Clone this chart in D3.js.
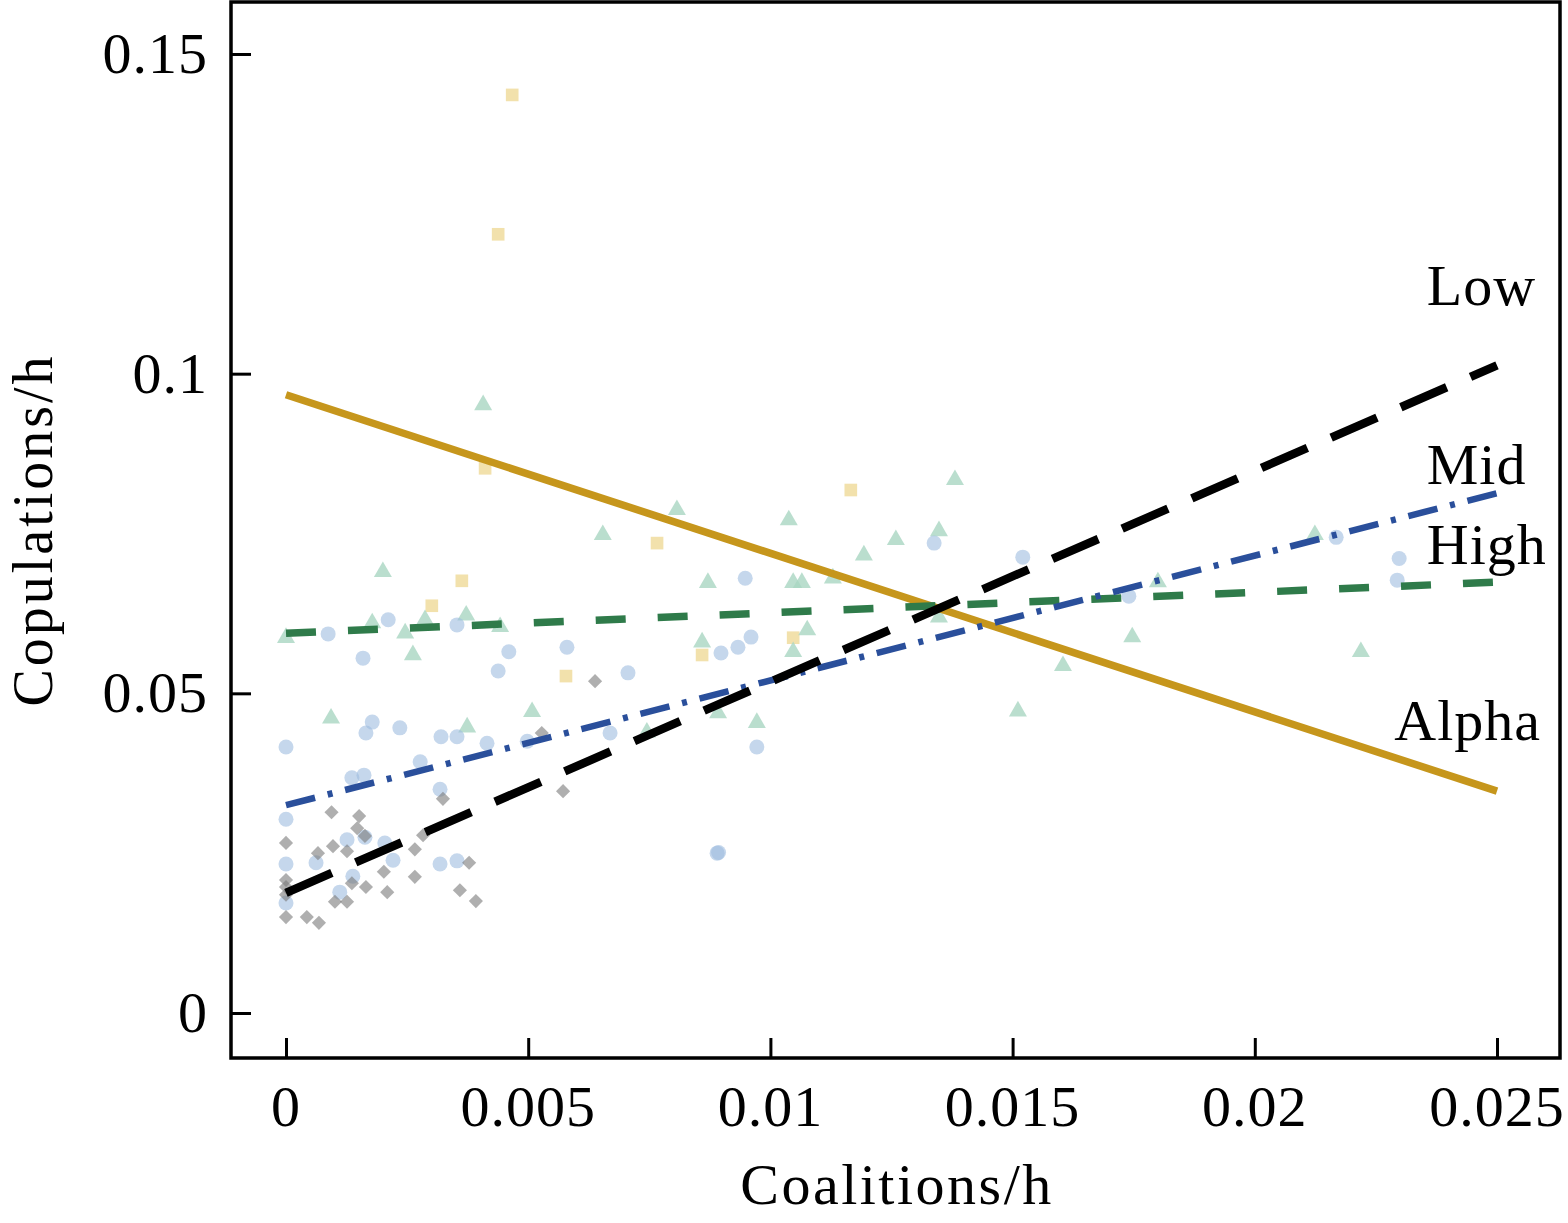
<!DOCTYPE html>
<html><head><meta charset="utf-8">
<script src="https://cdn.jsdelivr.net/npm/d3@7"></script>
<style>body{margin:0;background:#fff}svg{display:block}text{font-family:"Liberation Serif","Times New Roman",serif;fill:#000}</style>
</head><body>
<svg id="c" width="1568" height="1223"></svg>
<script>
// ---- data ----
const xTicks = [0, 0.005, 0.01, 0.015, 0.02, 0.025];
const xTickLabels = ["0", "0.005", "0.01", "0.015", "0.02", "0.025"];
const yTicks = [0, 0.05, 0.1, 0.15];
const yTickLabels = ["0", "0.05", "0.1", "0.15"];
const xLabel = "Coalitions/h";
const yLabel = "Copulations/h";

// fitted lines: value at x = 0 and x = 0.025
const fitX = [0, 0.025];
const lowFit = [0.0188, 0.1013];
const midFit = [0.0325, 0.0813];
const highFit = [0.0594, 0.0674];
const alphaFit = [0.0967, 0.0347];

// scatter points [x, y]
const lowPts = [[0.00094,0.0314],[0.00151,0.0308],[0,0.0266],[0.00097,0.0261],[0.00147,0.0289],[0.00066,0.0250],[0.00126,0.0253],[0.00163,0.0277],[0.00283,0.0278],[0.00266,0.0256],[0.00324,0.0335],[0.00378,0.0235],[0.00202,0.0221],[0.00266,0.0213],[0.00165,0.0197],[0.00209,0.0189],[0.00359,0.0192],[0.00392,0.0175],[0.00101,0.0174],[0.00126,0.0174],[0,0.0150],[0.00043,0.0150],[0.00068,0.0141],[0.00136,0.0203],[0,0.0197],[0,0.0185],[0,0.0208],[0.00528,0.0438],[0.00638,0.0519],[0.00572,0.0347]];
const midPts = [[0,0.0303],[0,0.0233],[0.00062,0.0235],[0.00126,0.0271],[0.00163,0.0275],[0.00204,0.0266],[0.00221,0.0239],[0.00318,0.0233],[0.00353,0.0238],[0.00318,0.0350],[0.00136,0.0368],[0.00161,0.0372],[0,0.0172],[0.00111,0.0189],[0.00138,0.0214],[0.00277,0.0393],[0,0.0416],[0.00087,0.0593],[0.00159,0.0555],[0.00211,0.0615],[0.00353,0.0607],[0.0046,0.0565],[0.00438,0.0535],[0.0058,0.0572],[0.00706,0.0532],[0.00898,0.0563],[0.00933,0.0572],[0.0096,0.0588],[0.00948,0.0680],[0.00669,0.0438],[0.00972,0.0416],[0.0089,0.0250],[0.00893,0.0251],[0.01338,0.0735],[0.01521,0.0713],[0.0174,0.0652],[0.02168,0.0744],[0.02298,0.0711],[0.02294,0.0677],[0.00178,0.0455],[0.00165,0.0438],[0.00235,0.0446],[0.0032,0.0432],[0.00353,0.0432],[0.00415,0.0422],[0.00498,0.0425]];
const highPts = [[0.00407,0.0951],[0.00654,0.0748],[0.00807,0.0787],[0.01038,0.0771],[0.01381,0.0834],[0.01348,0.0754],[0.01259,0.0740],[0.01193,0.0716],[0.01047,0.0673],[0.01065,0.0673],[0.01129,0.0680],[0.01348,0.0619],[0.01076,0.0599],[0.01047,0.0565],[0.018,0.0674],[0.01747,0.0588],[0.01604,0.0543],[0.01511,0.0472],[0.02124,0.0748],[0.02219,0.0565],[0.002,0.0690],[0,0.0587],[0.00093,0.0461],[0.00246,0.0594],[0.00262,0.0560],[0.00287,0.0615],[0.00372,0.0622],[0.00442,0.0604],[0.00508,0.0471],[0.00374,0.0447],[0.00745,0.0439],[0.00892,0.0469],[0.00972,0.0454],[0.00859,0.0580],[0.00871,0.0673],[0.00178,0.0610]];
const alphaPts = [[0.00467,0.1436],[0.00438,0.1218],[0.00411,0.0852],[0.00363,0.0676],[0.00301,0.0637],[0.00578,0.0527],[0.00766,0.0735],[0.00859,0.0560],[0.01047,0.0587],[0.01166,0.0818]];

const seriesNames = ["Low", "Mid", "High", "Alpha"];
const labelPos = [[0.02355,0.1108],[0.02355,0.0827],[0.02355,0.0702],[0.02288,0.0427]];

// ---- drawing ----
const svg = d3.select("#c");
const L = 231, R = 1560, T = 2, B = 1058;
const x = d3.scaleLinear().domain([0, 0.025]).range([286, 1497]);
const y = d3.scaleLinear().domain([0, 0.15]).range([1013, 54]);

// points
const gp = svg.append("g");
gp.append("g").selectAll("path").data(alphaPts).join("path")
  .attr("d", d3.symbol(d3.symbolSquare, 160)())
  .attr("transform", d => `translate(${x(d[0])},${y(d[1])})`)
  .attr("fill", "#f1dea3").attr("opacity", 0.9);
gp.append("g").selectAll("path").data(highPts).join("path")
  .attr("d", d3.symbol(d3.symbolTriangle, 140)())
  .attr("transform", d => `translate(${x(d[0])},${y(d[1])})`)
  .attr("fill", "#a9d6c2").attr("opacity", 0.8);
gp.append("g").selectAll("circle").data(midPts).join("circle")
  .attr("cx", d => x(d[0])).attr("cy", d => y(d[1])).attr("r", 7.5)
  .attr("fill", "#9fbde0").attr("opacity", 0.6);
gp.append("g").selectAll("path").data(lowPts).join("path")
  .attr("d", d3.symbol(d3.symbolSquare, 100)())
  .attr("transform", d => `translate(${x(d[0])},${y(d[1])}) rotate(45)`)
  .attr("fill", "#7a7a7a").attr("opacity", 0.6);

// lines
const line = d3.line().x(d => x(d[0])).y(d => y(d[1]));
function fit(vals) { return fitX.map((v, i) => [v, vals[i]]); }
const gl = svg.append("g").attr("fill", "none");
gl.append("path").attr("d", line(fit(alphaFit))).attr("stroke", "#c6961c").attr("stroke-width", 7.5);
gl.append("path").attr("d", line(fit(highFit))).attr("stroke", "#2f7b4a").attr("stroke-width", 7.5).attr("stroke-dasharray", "30 32");
gl.append("path").attr("d", line(fit(midFit))).attr("stroke", "#2a4f9b").attr("stroke-width", 6.5).attr("stroke-dasharray", "30 13 5 13");
gl.append("path").attr("d", line(fit(lowFit))).attr("stroke", "#000").attr("stroke-width", 8.5).attr("stroke-dasharray", "50 26");

// frame
svg.append("rect").attr("x", L).attr("y", T).attr("width", R - L).attr("height", B - T)
  .attr("fill", "none").attr("stroke", "#000").attr("stroke-width", 3.5);

// axes ticks (inward)
const xa = svg.append("g").attr("transform", `translate(0,${B})`)
  .call(d3.axisTop(x).tickValues(xTicks).tickSize(20).tickFormat(""));
xa.select(".domain").remove();
xa.selectAll("line").attr("stroke", "#000").attr("stroke-width", 3);
const ya = svg.append("g").attr("transform", `translate(${L},0)`)
  .call(d3.axisRight(y).tickValues(yTicks).tickSize(20).tickFormat(""));
ya.select(".domain").remove();
ya.selectAll("line").attr("stroke", "#000").attr("stroke-width", 3);

// tick labels
svg.append("g").selectAll("text").data(xTicks).join("text")
  .attr("x", d => x(d)).attr("y", 1126).attr("text-anchor", "middle")
  .attr("font-size", 58).attr("letter-spacing", 1)
  .text((d, i) => xTickLabels[i]);
svg.append("g").selectAll("text").data(yTicks).join("text")
  .attr("x", 208).attr("y", d => y(d) + 19).attr("text-anchor", "end")
  .attr("font-size", 58).attr("letter-spacing", 1)
  .text((d, i) => yTickLabels[i]);

// axis titles
svg.append("text").attr("x", 897).attr("y", 1204).attr("text-anchor", "middle")
  .attr("font-size", 58).attr("letter-spacing", 2.5).text(xLabel);
svg.append("text").attr("transform", "translate(52,530) rotate(-90)").attr("text-anchor", "middle")
  .attr("font-size", 56).attr("letter-spacing", 3).text(yLabel);

// series labels
svg.append("g").selectAll("text").data(seriesNames).join("text")
  .attr("x", (d, i) => x(labelPos[i][0])).attr("y", (d, i) => y(labelPos[i][1]))
  .attr("font-size", 58).attr("letter-spacing", 1).text(d => d);
</script>
</body></html>
